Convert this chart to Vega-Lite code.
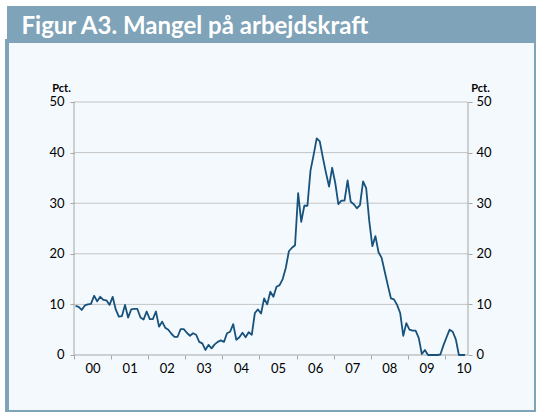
{
  "$schema": "https://vega.github.io/schema/vega-lite/v6.json",
  "background": "white",
  "padding": {"left": 5, "top": 6, "right": 0, "bottom": 0},
  "config": {"font": "Lato"},
  "bounds": "flush",
  "spacing": 0,
  "datasets": {
    "series": [
      {"t": 2000.042, "v": 9.7}, {"t": 2000.125, "v": 9.5}, {"t": 2000.208, "v": 8.9}, {"t": 2000.292, "v": 9.8}, {"t": 2000.375, "v": 10.0}, {"t": 2000.458, "v": 10.1}, {"t": 2000.542, "v": 11.7}, {"t": 2000.625, "v": 10.6}, {"t": 2000.708, "v": 11.5}, {"t": 2000.792, "v": 10.9}, {"t": 2000.875, "v": 10.8}, {"t": 2000.958, "v": 9.9},
      {"t": 2001.042, "v": 11.5}, {"t": 2001.125, "v": 9.0}, {"t": 2001.208, "v": 7.6}, {"t": 2001.292, "v": 7.7}, {"t": 2001.375, "v": 9.9}, {"t": 2001.458, "v": 7.4}, {"t": 2001.542, "v": 9.0}, {"t": 2001.625, "v": 9.1}, {"t": 2001.708, "v": 9.1}, {"t": 2001.792, "v": 7.4}, {"t": 2001.875, "v": 7.0}, {"t": 2001.958, "v": 8.6},
      {"t": 2002.042, "v": 7.1}, {"t": 2002.125, "v": 7.1}, {"t": 2002.208, "v": 8.6}, {"t": 2002.292, "v": 5.6}, {"t": 2002.375, "v": 6.6}, {"t": 2002.458, "v": 5.4}, {"t": 2002.542, "v": 5.0}, {"t": 2002.625, "v": 4.2}, {"t": 2002.708, "v": 3.6}, {"t": 2002.792, "v": 3.6}, {"t": 2002.875, "v": 5.1}, {"t": 2002.958, "v": 5.1},
      {"t": 2003.042, "v": 4.4}, {"t": 2003.125, "v": 3.8}, {"t": 2003.208, "v": 4.3}, {"t": 2003.292, "v": 4.0}, {"t": 2003.375, "v": 2.6}, {"t": 2003.458, "v": 2.3}, {"t": 2003.542, "v": 1.0}, {"t": 2003.625, "v": 2.0}, {"t": 2003.708, "v": 1.3}, {"t": 2003.792, "v": 2.1}, {"t": 2003.875, "v": 2.6}, {"t": 2003.958, "v": 2.9},
      {"t": 2004.042, "v": 2.6}, {"t": 2004.125, "v": 4.3}, {"t": 2004.208, "v": 4.6}, {"t": 2004.292, "v": 6.1}, {"t": 2004.375, "v": 3.0}, {"t": 2004.458, "v": 3.5}, {"t": 2004.542, "v": 4.4}, {"t": 2004.625, "v": 3.5}, {"t": 2004.708, "v": 4.5}, {"t": 2004.792, "v": 4.0}, {"t": 2004.875, "v": 8.3}, {"t": 2004.958, "v": 9.0},
      {"t": 2005.042, "v": 8.2}, {"t": 2005.125, "v": 11.2}, {"t": 2005.208, "v": 10.0}, {"t": 2005.292, "v": 12.5}, {"t": 2005.375, "v": 11.5}, {"t": 2005.458, "v": 13.5}, {"t": 2005.542, "v": 13.8}, {"t": 2005.625, "v": 15.0}, {"t": 2005.708, "v": 17.2}, {"t": 2005.792, "v": 20.5}, {"t": 2005.875, "v": 21.2}, {"t": 2005.958, "v": 21.7},
      {"t": 2006.042, "v": 32.0}, {"t": 2006.125, "v": 26.3}, {"t": 2006.208, "v": 29.5}, {"t": 2006.292, "v": 29.5}, {"t": 2006.375, "v": 36.5}, {"t": 2006.458, "v": 39.5}, {"t": 2006.542, "v": 42.8}, {"t": 2006.625, "v": 42.2}, {"t": 2006.708, "v": 39.0}, {"t": 2006.792, "v": 36.0}, {"t": 2006.875, "v": 33.3}, {"t": 2006.958, "v": 37.0},
      {"t": 2007.042, "v": 34.0}, {"t": 2007.125, "v": 29.8}, {"t": 2007.208, "v": 30.5}, {"t": 2007.292, "v": 30.5}, {"t": 2007.375, "v": 34.5}, {"t": 2007.458, "v": 30.3}, {"t": 2007.542, "v": 29.8}, {"t": 2007.625, "v": 29.0}, {"t": 2007.708, "v": 29.6}, {"t": 2007.792, "v": 34.3}, {"t": 2007.875, "v": 33.0}, {"t": 2007.958, "v": 26.5},
      {"t": 2008.042, "v": 21.5}, {"t": 2008.125, "v": 23.5}, {"t": 2008.208, "v": 20.3}, {"t": 2008.292, "v": 19.2}, {"t": 2008.375, "v": 16.5}, {"t": 2008.458, "v": 13.8}, {"t": 2008.542, "v": 11.2}, {"t": 2008.625, "v": 11.0}, {"t": 2008.708, "v": 9.9}, {"t": 2008.792, "v": 8.3}, {"t": 2008.875, "v": 3.8}, {"t": 2008.958, "v": 6.3},
      {"t": 2009.042, "v": 5.0}, {"t": 2009.125, "v": 4.8}, {"t": 2009.208, "v": 4.8}, {"t": 2009.292, "v": 3.4}, {"t": 2009.375, "v": 0.2}, {"t": 2009.458, "v": 1.0}, {"t": 2009.542, "v": 0}, {"t": 2009.625, "v": 0}, {"t": 2009.708, "v": 0}, {"t": 2009.792, "v": 0}, {"t": 2009.875, "v": 0.1}, {"t": 2009.958, "v": 1.9},
      {"t": 2010.042, "v": 3.5}, {"t": 2010.125, "v": 5.0}, {"t": 2010.208, "v": 4.6}, {"t": 2010.292, "v": 3.1}, {"t": 2010.375, "v": 0}, {"t": 2010.458, "v": 0}, {"t": 2010.542, "v": 0}
    ],
    "grid": [{"v": 10}, {"v": 20}, {"v": 30}, {"v": 40}, {"v": 50}],
    "one": [{}]
  },
  "vconcat": [
    {
      "width": 529,
      "height": 35,
      "view": {"fill": "#7fa3b8", "stroke": null},
      "data": {"name": "one"},
      "mark": {"type": "text", "text": ""},
      "encoding": {
        "x": {
          "datum": 0, "type": "quantitative", "scale": {"domain": [0, 1]},
          "axis": {
            "orient": "top", "offset": 0, "domain": false, "ticks": false, "labels": false, "grid": false,
            "title": "Figur A3. Mangel på arbejdskraft",
            "titleX": 14, "titleY": 27, "titleAlign": "left", "titleBaseline": "alphabetic", "titleAngle": 0,
            "titleColor": "#ffffff", "titleFont": "Lato", "titleFontSize": 24, "titleFontWeight": "bold"
          }
        }
      }
    },
    {
      "width": 529,
      "height": 371,
      "view": {"fill": "#f4f9fd", "stroke": "#7fa3b8", "strokeWidth": 4},
      "resolve": {"axis": {"x": "independent", "y": "independent"}},
      "layer": [
        {
          "data": {"name": "grid"},
          "mark": {"type": "rule", "color": "#c4c4c4", "strokeWidth": 1},
          "encoding": {
            "y": {
              "field": "v", "type": "quantitative",
              "scale": {"domain": [-11.265, 62.055], "nice": false, "zero": false},
              "axis": {
                "orient": "right", "offset": -68, "values": [0, 10, 20, 30, 40, 50],
                "domain": false, "grid": false, "ticks": true, "tickSize": 4, "tickColor": "#a6a6a6",
                "labelFont": "Lato", "labelFontSize": 13, "labelColor": "#000000", "labelPadding": 4,
                "title": "Pct.", "titleAngle": 0, "titleX": 12, "titleY": 47, "titleAlign": "center", "titleBaseline": "middle",
                "titleFont": "Lato", "titleFontSize": 11, "titleFontWeight": "bold", "titleColor": "#000000"
              }
            },
            "x": {"datum": 2000, "type": "quantitative", "scale": {"domain": [1998.194, 2012.453], "nice": false, "zero": false}, "axis": null},
            "x2": {"datum": 2010.62}
          }
        },
        {
          "data": {"name": "one"},
          "mark": {"type": "rule", "color": "#a6a6a6", "strokeWidth": 1},
          "encoding": {
            "x": {"datum": 2000, "type": "quantitative", "scale": {"domain": [1998.194, 2012.453], "nice": false, "zero": false}, "axis": null},
            "y": {"datum": 0, "type": "quantitative", "scale": {"domain": [-11.265, 62.055], "nice": false, "zero": false}, "axis": null},
            "y2": {"datum": 50}
          }
        },
        {
          "data": {"name": "one"},
          "mark": {"type": "rule", "color": "#a6a6a6", "strokeWidth": 1},
          "encoding": {
            "x": {"datum": 2010.62, "type": "quantitative", "scale": {"domain": [1998.194, 2012.453], "nice": false, "zero": false}, "axis": null},
            "y": {"datum": 0, "type": "quantitative", "scale": {"domain": [-11.265, 62.055], "nice": false, "zero": false}, "axis": null},
            "y2": {"datum": 50}
          }
        },
        {
          "data": {"name": "one"},
          "mark": {"type": "rule", "color": "#a6a6a6", "strokeWidth": 1},
          "encoding": {
            "x": {"datum": 2000, "type": "quantitative", "scale": {"domain": [1998.194, 2012.453], "nice": false, "zero": false}, "axis": null},
            "x2": {"datum": 2010.62},
            "y": {"datum": 0, "type": "quantitative", "scale": {"domain": [-11.265, 62.055], "nice": false, "zero": false}, "axis": null}
          }
        },
        {
          "data": {"name": "series"},
          "mark": {"type": "line", "color": "#17527d", "strokeWidth": 1.8, "strokeJoin": "round"},
          "encoding": {
            "x": {
              "field": "t", "type": "quantitative",
              "scale": {"domain": [1998.194, 2012.453], "nice": false, "zero": false},
              "axis": {
                "orient": "bottom", "offset": -57, "values": [2000, 2001, 2002, 2003, 2004, 2005, 2006, 2007, 2008, 2009, 2010],
                "domain": false, "grid": false, "ticks": true, "tickSize": 4, "tickColor": "#a6a6a6",
                "labelOffset": 18.55, "labelExpr": "substring(toString(floor(datum.value)), 2)",
                "labelFont": "Lato", "labelFontSize": 13, "labelColor": "#000000", "labelPadding": 3,
                "labelOverlap": false, "labelBound": false, "labelFlush": false, "title": null
              }
            },
            "y": {
              "field": "v", "type": "quantitative",
              "scale": {"domain": [-11.265, 62.055], "nice": false, "zero": false},
              "axis": {
                "orient": "left", "offset": -67, "values": [0, 10, 20, 30, 40, 50],
                "domain": false, "grid": false, "ticks": true, "tickSize": 4, "tickColor": "#a6a6a6",
                "labelFont": "Lato", "labelFontSize": 13, "labelColor": "#000000", "labelPadding": 6,
                "title": "Pct.", "titleAngle": 0, "titleX": -13, "titleY": 47, "titleAlign": "center", "titleBaseline": "middle",
                "titleFont": "Lato", "titleFontSize": 11, "titleFontWeight": "bold", "titleColor": "#000000"
              }
            }
          }
        }
      ]
    }
  ]
}
